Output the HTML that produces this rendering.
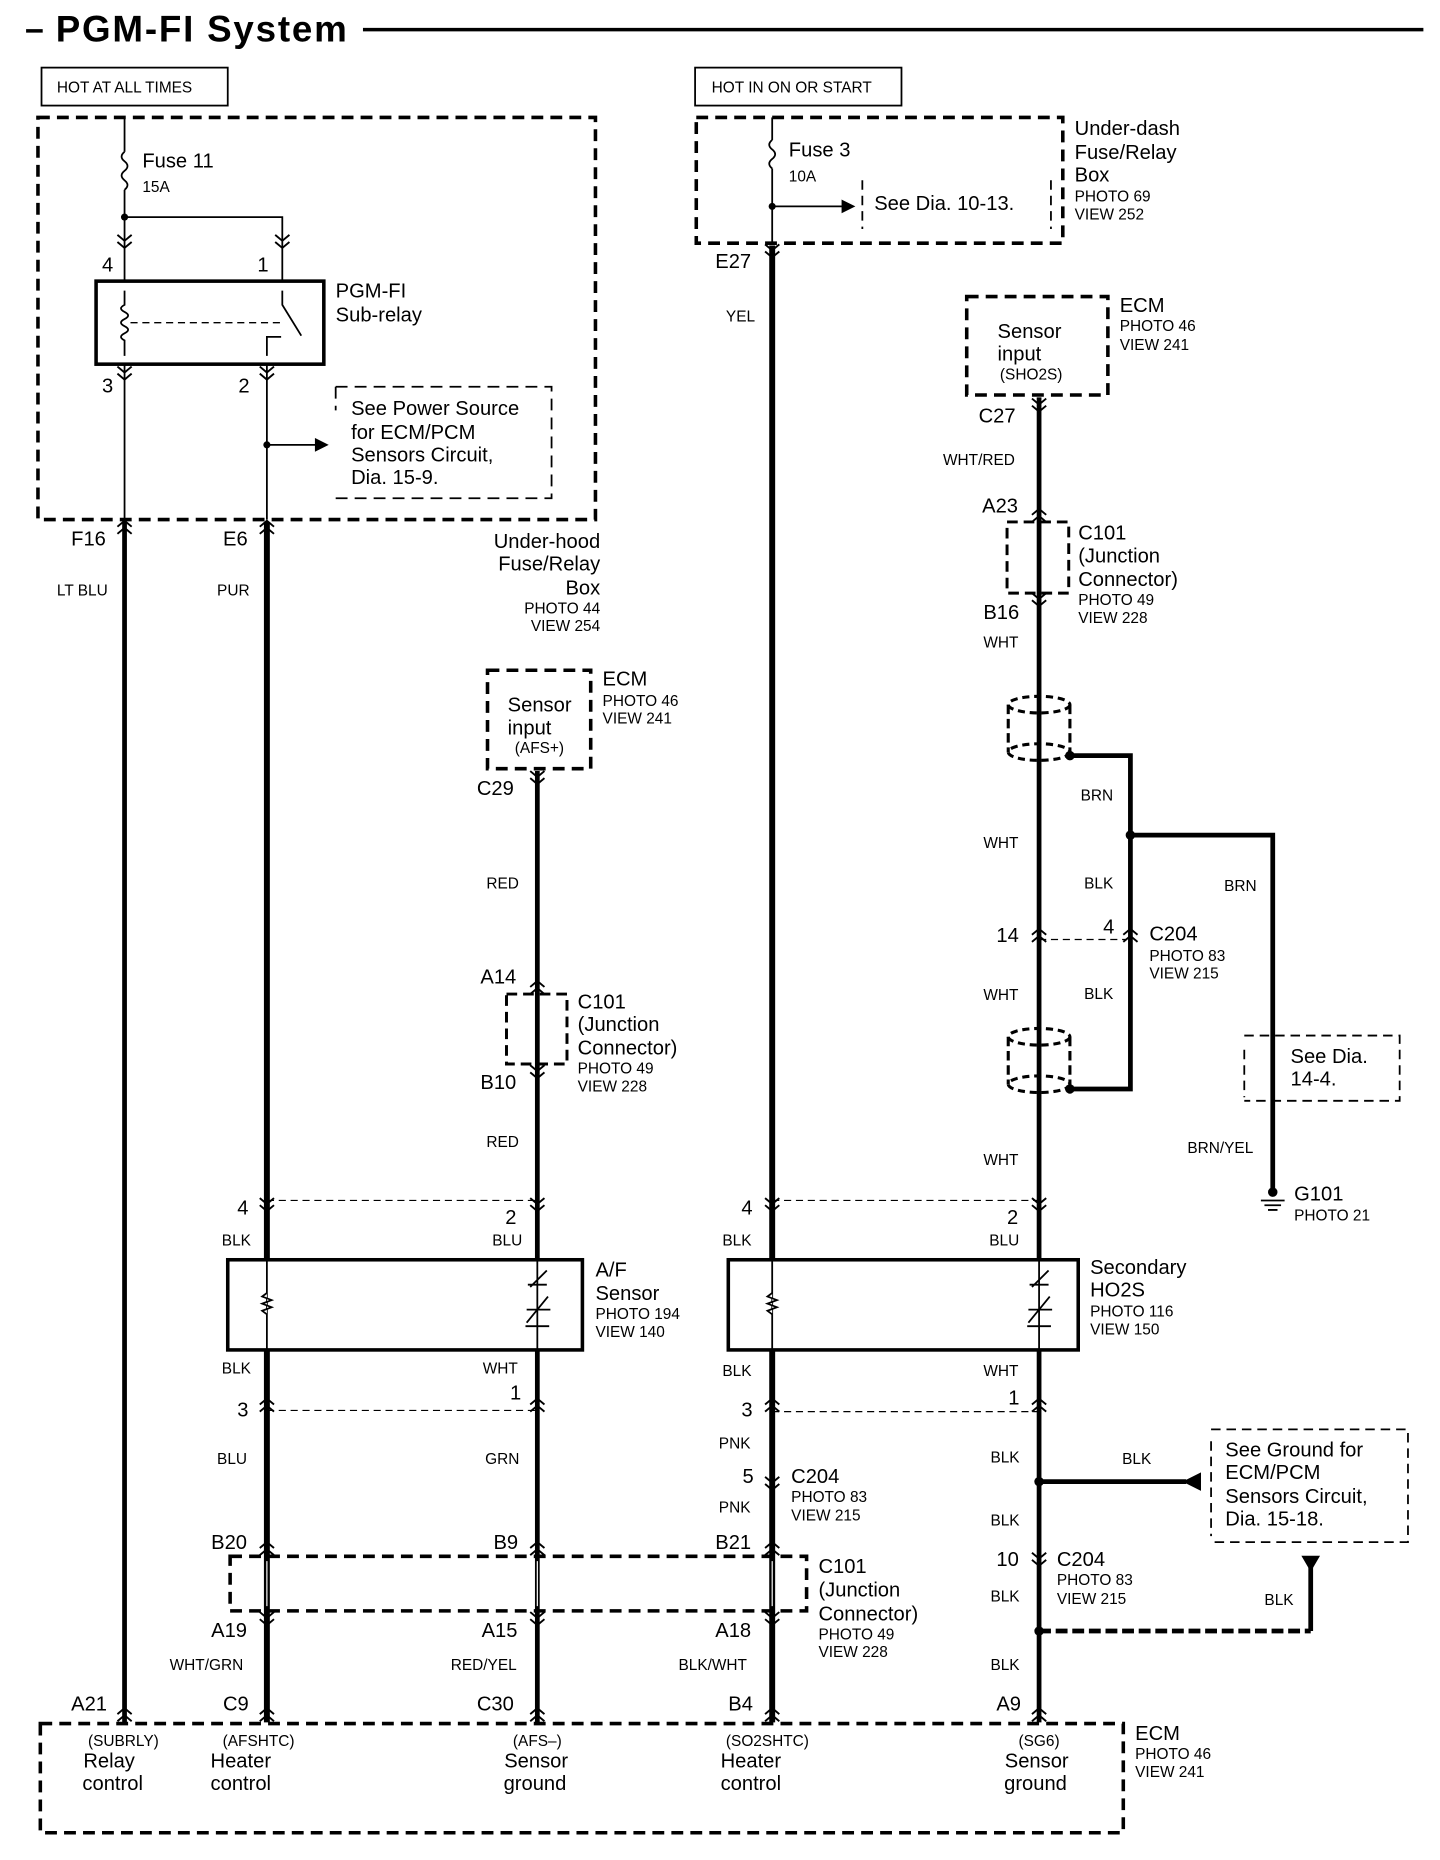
<!DOCTYPE html>
<html><head><meta charset="utf-8"><style>
html,body{margin:0;padding:0;background:#fff}
svg{display:block}
text{font-family:"Liberation Sans",Arial,sans-serif;fill:#000}
.m{font-size:17px}.s{font-size:13px}.w{font-size:13px}
</style></head><body>
<svg width="1440" height="1860" viewBox="0 0 1214 1568" preserveAspectRatio="none" xmlns="http://www.w3.org/2000/svg">
<defs>
<g id="cv"><path d="M-6,-5 L0,0 L6,-5 M-6,1 L0,6 L6,1" fill="none" stroke="#000" stroke-width="1.6"/></g>
<g id="cu"><path d="M-6,5 L0,0 L6,5 M-6,-1 L0,-6 L6,-1" fill="none" stroke="#000" stroke-width="1.6"/></g>
</defs>
<g stroke="#000" fill="none">
<line x1="22" y1="26" x2="36" y2="26" stroke-width="3"/>
<line x1="306" y1="25" x2="1200" y2="25" stroke-width="3"/>
<rect x="35" y="57" width="157" height="32" stroke-width="1.5"/>
<rect x="586" y="57" width="174" height="32" stroke-width="1.5"/>
<rect x="32" y="99" width="470" height="339" stroke-width="3" stroke-dasharray="10,6"/>
<line x1="105" y1="99" x2="105" y2="128" stroke-width="1.5"/>
<path d="M105,128 q-5,4 0,8 q5,4 0,8 q-5,4 0,8 q5,4 0,8" stroke-width="1.5"/>
<line x1="105" y1="160" x2="105" y2="237" stroke-width="1.5"/>
<polyline points="105,183 238,183 238,237" stroke-width="1.5"/>
<rect x="81" y="237" width="192" height="70" stroke-width="3"/>
<path d="M105,245 v12 q-6,3 0,6 q6,3 0,6 q-6,3 0,6 q6,3 0,6 q-6,3 0,6 v13" stroke-width="1.5"/>
<line x1="110" y1="272" x2="238" y2="272" stroke-width="1.2" stroke-dasharray="6,4"/>
<path d="M238,245 v12 l16,26 M225,300 v-16 h12" stroke-width="1.5"/>
<line x1="105" y1="307" x2="105" y2="438" stroke-width="1.5"/>
<line x1="225" y1="307" x2="225" y2="438" stroke-width="1.5"/>
<line x1="225" y1="375" x2="266" y2="375" stroke-width="1.5"/>
<path d="M266,370 L276,375 L266,380 Z" fill="#000"/>
<path d="M283,326 h182 v94 h-182 M283,326 v20" stroke-width="1.5" stroke-dasharray="10,6"/>
<line x1="105" y1="440" x2="105" y2="1452" stroke-width="4"/>
<line x1="225" y1="440" x2="225" y2="1452" stroke-width="5"/>
<rect x="411" y="565" width="87" height="83" stroke-width="3" stroke-dasharray="10,6"/>
<line x1="453" y1="650" x2="453" y2="1452" stroke-width="4"/>
<rect x="427" y="838" width="51" height="59" stroke-width="2.5" stroke-dasharray="9,5"/>
<line x1="225" y1="1012" x2="453" y2="1012" stroke-width="1" stroke-dasharray="6,4"/>
<line x1="225" y1="1189" x2="453" y2="1189" stroke-width="1" stroke-dasharray="6,4"/>
<rect x="192" y="1062" width="299" height="76" stroke-width="3" fill="#fff"/>
<line x1="225" y1="1062" x2="225" y2="1138" stroke-width="1.5"/>
<path d="M225,1090 l-4,3 l8,3 l-8,3 l8,3 l-8,3 l4,3" stroke-width="1.5" fill="#fff"/>
<line x1="453" y1="1062" x2="453" y2="1138" stroke-width="1.5"/>
<path d="M445,1083 h16 M443,1118 h20 M447,1085 l14,-14 M444,1115 l18,-22 M444,1104 h20" stroke-width="1.5"/>
<rect x="587" y="99" width="309" height="106" stroke-width="3" stroke-dasharray="10,6"/>
<line x1="651" y1="99" x2="651" y2="118" stroke-width="1.5"/>
<path d="M651,118 q-5,4 0,8 q5,4 0,8 q-5,4 0,8" stroke-width="1.5"/>
<line x1="651" y1="142" x2="651" y2="205" stroke-width="1.5"/>
<line x1="651" y1="174" x2="710" y2="174" stroke-width="1.5"/>
<path d="M710,169 L720,174 L710,179 Z" fill="#000"/>
<path d="M727,152 v41 M886,152 v41" stroke-width="1.5" stroke-dasharray="8,5"/>
<line x1="651" y1="207" x2="651" y2="1452" stroke-width="5"/>
<rect x="815" y="250" width="119" height="83" stroke-width="3" stroke-dasharray="10,6"/>
<line x1="876" y1="335" x2="876" y2="1452" stroke-width="4"/>
<rect x="849" y="440" width="52" height="60" stroke-width="2.5" stroke-dasharray="9,5"/>
<g stroke-width="2.6">
<ellipse cx="876" cy="594" rx="26" ry="7" stroke-dasharray="6,4"/>
<ellipse cx="876" cy="634" rx="26" ry="7" stroke-dasharray="6,4"/>
<path d="M850,594 v40 M902,594 v40" stroke-dasharray="8,4"/>
<ellipse cx="876" cy="874" rx="26" ry="7" stroke-dasharray="6,4"/>
<ellipse cx="876" cy="914" rx="26" ry="7" stroke-dasharray="6,4"/>
<path d="M850,874 v40 M902,874 v40" stroke-dasharray="8,4"/>
</g>
<polyline points="902,637 953,637 953,918 902,918" stroke-width="4"/>
<polyline points="953,704 1073,704 1073,1005" stroke-width="4"/>
<line x1="876" y1="792" x2="950" y2="792" stroke-width="1" stroke-dasharray="6,4"/>
<path d="M1049,873 h131 v55 h-131 M1049,885 v40" stroke-width="1.5" stroke-dasharray="8,5"/>
<path d="M1063,1012 h20 M1066,1016 h14 M1069,1020 h8" stroke-width="1.5"/>
<line x1="651" y1="1012" x2="876" y2="1012" stroke-width="1" stroke-dasharray="6,4"/>
<line x1="651" y1="1190" x2="876" y2="1190" stroke-width="1" stroke-dasharray="6,4"/>
<rect x="614" y="1062" width="295" height="76" stroke-width="3" fill="#fff"/>
<line x1="651" y1="1062" x2="651" y2="1138" stroke-width="1.5"/>
<path d="M651,1090 l-4,3 l8,3 l-8,3 l8,3 l-8,3 l4,3" stroke-width="1.5" fill="#fff"/>
<line x1="876" y1="1062" x2="876" y2="1138" stroke-width="1.5"/>
<path d="M868,1083 h16 M866,1118 h20 M870,1085 l14,-14 M867,1115 l18,-22 M867,1104 h20" stroke-width="1.5"/>
<line x1="876" y1="1249" x2="1000" y2="1249" stroke-width="4"/>
<path d="M998,1249 L1012,1242 L1012,1256 Z" fill="#000"/>
<path d="M1021,1205 h166 v95 h-166 M1021,1215 v80" stroke-width="1.5" stroke-dasharray="8,5"/>
<line x1="876" y1="1375" x2="1105" y2="1375" stroke-width="4" stroke-dasharray="10,4"/>
<line x1="1105" y1="1375" x2="1105" y2="1320" stroke-width="4"/>
<path d="M1098,1312 L1112,1312 L1105,1324 Z" fill="#000"/>
<rect x="194" y="1312" width="486" height="46" stroke-width="3" stroke-dasharray="10,6" fill="none"/>
<path d="M225,1316 v38 M453,1316 v38 M651,1316 v38" stroke="#fff" stroke-width="1"/>
<rect x="34" y="1453" width="913" height="92" stroke-width="3" stroke-dasharray="10,6"/>
</g>
<g fill="#000">
<circle cx="105" cy="183" r="3"/><circle cx="225" cy="375" r="3"/><circle cx="651" cy="174" r="3"/>
<circle cx="902" cy="637" r="4"/><circle cx="902" cy="918" r="4"/><circle cx="953" cy="704" r="4"/>
<circle cx="876" cy="1249" r="4"/><circle cx="876" cy="1375" r="4"/><circle cx="1073" cy="1005" r="4"/>
</g>
<g>
<use href="#cv" x="105" y="203"/><use href="#cv" x="238" y="203"/>
<use href="#cv" x="105" y="314"/><use href="#cv" x="225" y="314"/>
<use href="#cu" x="105" y="445"/><use href="#cu" x="225" y="445"/>
<use href="#cv" x="453" y="655"/>
<use href="#cu" x="453" y="833"/><use href="#cv" x="453" y="903"/>
<use href="#cv" x="225" y="1015"/><use href="#cv" x="453" y="1015"/>
<use href="#cu" x="225" y="1185"/><use href="#cu" x="453" y="1185"/>
<use href="#cu" x="225" y="1306"/><use href="#cu" x="453" y="1306"/><use href="#cu" x="651" y="1306"/>
<use href="#cv" x="225" y="1364"/><use href="#cv" x="453" y="1364"/><use href="#cv" x="651" y="1364"/>
<use href="#cu" x="105" y="1446"/><use href="#cu" x="225" y="1446"/><use href="#cu" x="453" y="1446"/><use href="#cu" x="651" y="1446"/><use href="#cu" x="876" y="1446"/>
<use href="#cv" x="651" y="211"/>
<use href="#cv" x="876" y="341"/><use href="#cu" x="876" y="435"/><use href="#cv" x="876" y="505"/>
<use href="#cu" x="876" y="789"/><use href="#cu" x="953" y="789"/>
<use href="#cv" x="651" y="1015"/><use href="#cv" x="876" y="1015"/>
<use href="#cu" x="651" y="1185"/><use href="#cu" x="876" y="1185"/>
<use href="#cv" x="651" y="1250"/><use href="#cv" x="876" y="1314"/>
</g>
<text x="47" y="35" style="font-size:31px;font-weight:bold;letter-spacing:1.5px">PGM-FI System</text>
<text x="48" y="78" class="s">HOT AT ALL TIMES</text>
<text x="600" y="78" class="s">HOT IN ON OR START</text>
<text x="120" y="141" class="m">Fuse 11</text><text x="120" y="162" class="s">15A</text>
<text x="86" y="229" class="m">4</text><text x="217" y="229" class="m">1</text>
<text x="86" y="331" class="m">3</text><text x="201" y="331" class="m">2</text>
<text x="283" y="251" class="m">PGM-FI</text><text x="283" y="271" class="m">Sub-relay</text>
<text x="296" y="350" class="m">See Power Source</text><text x="296" y="370" class="m">for ECM/PCM</text><text x="296" y="389" class="m">Sensors Circuit,</text><text x="296" y="408" class="m">Dia. 15-9.</text>
<text x="60" y="460" class="m">F16</text><text x="188" y="460" class="m">E6</text>
<text x="48" y="502" class="w">LT BLU</text><text x="183" y="502" class="w">PUR</text>
<g text-anchor="end"><text x="506" y="462" class="m">Under-hood</text><text x="506" y="481" class="m">Fuse/Relay</text><text x="506" y="501" class="m">Box</text><text x="506" y="517" class="s">PHOTO 44</text><text x="506" y="532" class="s">VIEW 254</text></g>
<text x="428" y="600" class="m">Sensor</text><text x="428" y="619" class="m">input</text><text x="434" y="635" class="s">(AFS+)</text>
<text x="508" y="578" class="m">ECM</text><text x="508" y="595" class="s">PHOTO 46</text><text x="508" y="610" class="s">VIEW 241</text>
<text x="402" y="670" class="m">C29</text><text x="410" y="749" class="w">RED</text>
<text x="405" y="829" class="m">A14</text><text x="405" y="918" class="m">B10</text><text x="410" y="967" class="w">RED</text>
<text x="487" y="850" class="m">C101</text><text x="487" y="869" class="m">(Junction</text><text x="487" y="889" class="m">Connector)</text><text x="487" y="905" class="s">PHOTO 49</text><text x="487" y="920" class="s">VIEW 228</text>
<text x="200" y="1024" class="m">4</text><text x="426" y="1032" class="m">2</text>
<text x="187" y="1050" class="w">BLK</text><text x="415" y="1050" class="w">BLU</text>
<text x="502" y="1076" class="m">A/F</text><text x="502" y="1096" class="m">Sensor</text><text x="502" y="1112" class="s">PHOTO 194</text><text x="502" y="1127" class="s">VIEW 140</text>
<text x="187" y="1158" class="w">BLK</text><text x="407" y="1158" class="w">WHT</text>
<text x="200" y="1194" class="m">3</text><text x="430" y="1180" class="m">1</text>
<text x="183" y="1234" class="w">BLU</text><text x="409" y="1234" class="w">GRN</text>
<text x="178" y="1306" class="m">B20</text><text x="416" y="1306" class="m">B9</text><text x="603" y="1306" class="m">B21</text>
<text x="178" y="1380" class="m">A19</text><text x="406" y="1380" class="m">A15</text><text x="603" y="1380" class="m">A18</text>
<text x="143" y="1408" class="w">WHT/GRN</text><text x="380" y="1408" class="w">RED/YEL</text><text x="572" y="1408" class="w">BLK/WHT</text>
<text x="690" y="1326" class="m">C101</text><text x="690" y="1346" class="m">(Junction</text><text x="690" y="1366" class="m">Connector)</text><text x="690" y="1382" class="s">PHOTO 49</text><text x="690" y="1397" class="s">VIEW 228</text>
<text x="60" y="1442" class="m">A21</text><text x="188" y="1442" class="m">C9</text><text x="402" y="1442" class="m">C30</text><text x="614" y="1442" class="m">B4</text><text x="840" y="1442" class="m">A9</text>
<g text-anchor="middle">
<text x="104" y="1472" class="s">(SUBRLY)</text><text x="92" y="1490" class="m">Relay</text><text x="95" y="1509" class="m">control</text>
<text x="218" y="1472" class="s">(AFSHTC)</text><text x="203" y="1490" class="m">Heater</text><text x="203" y="1509" class="m">control</text>
<text x="453" y="1472" class="s">(AFS–)</text><text x="452" y="1490" class="m">Sensor</text><text x="451" y="1509" class="m">ground</text>
<text x="647" y="1472" class="s">(SO2SHTC)</text><text x="633" y="1490" class="m">Heater</text><text x="633" y="1509" class="m">control</text>
<text x="876" y="1472" class="s">(SG6)</text><text x="874" y="1490" class="m">Sensor</text><text x="873" y="1509" class="m">ground</text>
</g>
<text x="957" y="1467" class="m">ECM</text><text x="957" y="1483" class="s">PHOTO 46</text><text x="957" y="1498" class="s">VIEW 241</text>
<text x="665" y="132" class="m">Fuse 3</text><text x="665" y="153" class="s">10A</text>
<text x="737" y="177" class="m">See Dia. 10-13.</text>
<text x="906" y="114" class="m">Under-dash</text><text x="906" y="134" class="m">Fuse/Relay</text><text x="906" y="153" class="m">Box</text><text x="906" y="170" class="s">PHOTO 69</text><text x="906" y="185" class="s">VIEW 252</text>
<text x="603" y="226" class="m">E27</text><text x="612" y="271" class="w">YEL</text>
<text x="841" y="285" class="m">Sensor</text><text x="841" y="304" class="m">input</text><text x="843" y="320" class="s">(SHO2S)</text>
<text x="944" y="263" class="m">ECM</text><text x="944" y="279" class="s">PHOTO 46</text><text x="944" y="295" class="s">VIEW 241</text>
<text x="825" y="356" class="m">C27</text><text x="795" y="392" class="w">WHT/RED</text>
<text x="828" y="432" class="m">A23</text><text x="829" y="522" class="m">B16</text><text x="829" y="546" class="w">WHT</text>
<text x="909" y="455" class="m">C101</text><text x="909" y="474" class="m">(Junction</text><text x="909" y="494" class="m">Connector)</text><text x="909" y="510" class="s">PHOTO 49</text><text x="909" y="525" class="s">VIEW 228</text>
<text x="911" y="675" class="w">BRN</text><text x="829" y="715" class="w">WHT</text><text x="914" y="749" class="w">BLK</text><text x="1032" y="751" class="w">BRN</text>
<text x="840" y="794" class="m">14</text><text x="930" y="787" class="m">4</text>
<text x="969" y="793" class="m">C204</text><text x="969" y="810" class="s">PHOTO 83</text><text x="969" y="825" class="s">VIEW 215</text>
<text x="829" y="843" class="w">WHT</text><text x="914" y="842" class="w">BLK</text>
<text x="1088" y="896" class="m">See Dia.</text><text x="1088" y="915" class="m">14-4.</text>
<text x="1001" y="972" class="w">BRN/YEL</text><text x="829" y="982" class="w">WHT</text>
<text x="1091" y="1012" class="m">G101</text><text x="1091" y="1029" class="s">PHOTO 21</text>
<text x="625" y="1024" class="m">4</text><text x="849" y="1032" class="m">2</text>
<text x="609" y="1050" class="w">BLK</text><text x="834" y="1050" class="w">BLU</text>
<text x="919" y="1074" class="m">Secondary</text><text x="919" y="1093" class="m">HO2S</text><text x="919" y="1110" class="s">PHOTO 116</text><text x="919" y="1125" class="s">VIEW 150</text>
<text x="609" y="1160" class="w">BLK</text><text x="829" y="1160" class="w">WHT</text>
<text x="625" y="1194" class="m">3</text><text x="850" y="1184" class="m">1</text>
<text x="606" y="1221" class="w">PNK</text><text x="626" y="1250" class="m">5</text>
<text x="667" y="1250" class="m">C204</text><text x="667" y="1266" class="s">PHOTO 83</text><text x="667" y="1282" class="s">VIEW 215</text>
<text x="606" y="1275" class="w">PNK</text>
<text x="835" y="1233" class="w">BLK</text><text x="946" y="1234" class="w">BLK</text>
<text x="1033" y="1228" class="m">See Ground for</text><text x="1033" y="1247" class="m">ECM/PCM</text><text x="1033" y="1267" class="m">Sensors Circuit,</text><text x="1033" y="1286" class="m">Dia. 15-18.</text>
<text x="835" y="1286" class="w">BLK</text><text x="840" y="1320" class="m">10</text>
<text x="891" y="1320" class="m">C204</text><text x="891" y="1336" class="s">PHOTO 83</text><text x="891" y="1352" class="s">VIEW 215</text>
<text x="835" y="1350" class="w">BLK</text><text x="1066" y="1353" class="w">BLK</text><text x="835" y="1408" class="w">BLK</text>
</svg>
</body></html>
